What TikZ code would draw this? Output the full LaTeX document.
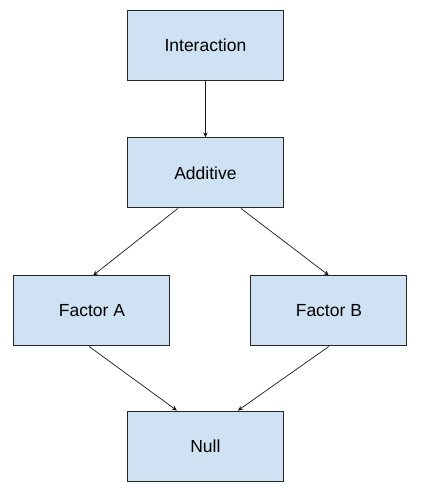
\documentclass[tikz,border=0pt]{standalone}
\usepackage{fontspec}
\setmainfont{Liberation Sans}
\usepackage{tikz}
\usetikzlibrary{arrows.meta}
\usetikzlibrary{positioning}
\definecolor{boxblue}{HTML}{CFE2F3}
\tikzstyle{box}=[draw=black!85, line width=1pt, fill=boxblue, minimum width=5.48cm, minimum height=2.46cm, inner sep=0pt, font=\fontsize{17.5}{21}\selectfont]
\tikzstyle{arr}=[-{Stealth[length=5pt,width=4.5pt]}, line width=0.7pt, black!90]

\begin{document}
\begin{tikzpicture}
	\useasboundingbox (0, 0) rectangle (15.22, 17.61);
	\node [box] (0) at (7.22, 16.01) {Interaction};
	\node [box] (1) at (7.22, 11.53) {Additive};
	\node [box] (2) at (3.23, 6.68) {Factor A};
	\node [box] (3) at (11.56, 6.68) {Factor B};
	\node [box] (4) at (7.22, 1.93) {Null};
	\draw [arr] (0.south) to (1.north);
	\draw [arr] ([xshift=-0.97cm]1.south) to ([xshift=0.04cm]2.north);
	\draw [arr] ([xshift=1.25cm]1.south) to (3.north);
	\draw [arr] ([xshift=-0.1cm]2.south) to ([xshift=-1.0cm]4.north);
	\draw [arr] (3.south) to ([xshift=1.14cm]4.north);
\end{tikzpicture}
\end{document}
